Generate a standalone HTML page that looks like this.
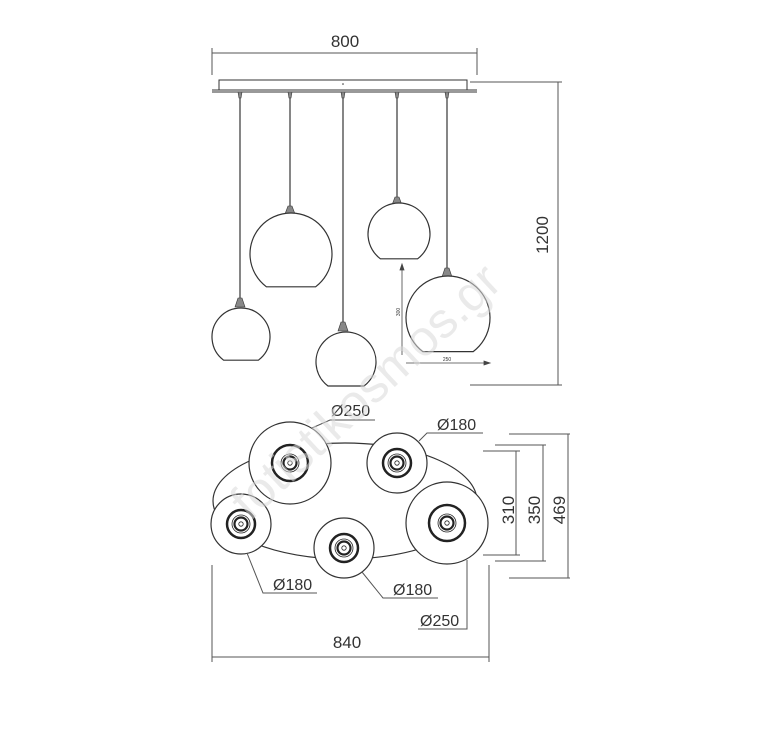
<!DOCTYPE html>
<html><head><meta charset="utf-8"><style>
html,body{margin:0;padding:0;background:#fff}
svg{display:block}
text{font-family:"Liberation Sans",sans-serif;fill:#333}
</style></head><body>
<svg width="767" height="729" viewBox="0 0 767 729" xmlns="http://www.w3.org/2000/svg">
<g stroke="#555" stroke-width="1" fill="none">
<line x1="212" y1="53" x2="477" y2="53"/>
<line x1="212" y1="48" x2="212" y2="75"/>
<line x1="477" y1="48" x2="477" y2="75"/>
<line x1="558" y1="82" x2="558" y2="385"/>
<line x1="470" y1="82" x2="562" y2="82"/>
<line x1="470" y1="385" x2="562" y2="385"/>
</g>
<text x="345" y="47" font-size="17" text-anchor="middle">800</text>
<text font-size="17" text-anchor="middle" transform="translate(548,235) rotate(-90)">1200</text>

<g stroke="#333" stroke-width="1" fill="#fff">
<rect x="219" y="80" width="248" height="10"/>
<line x1="212" y1="92" x2="477" y2="92"/>
<line x1="212" y1="90" x2="477" y2="90"/>
</g>
<circle cx="343" cy="84" r="0.8" fill="#333"/>

<g stroke="#444" stroke-width="1.3" fill="none">
<line x1="240" y1="92" x2="240" y2="298"/>
<line x1="290" y1="92" x2="290" y2="207"/>
<line x1="343" y1="92" x2="343" y2="323"/>
<line x1="397" y1="92" x2="397" y2="198"/>
<line x1="447" y1="92" x2="447" y2="270"/>
</g>
<g fill="#888" stroke="#333" stroke-width="0.6">
<path d="M238,92 h4 l-1,6 h-2z"/><path d="M288,92 h4 l-1,6 h-2z"/><path d="M341,92 h4 l-1,6 h-2z"/><path d="M395,92 h4 l-1,6 h-2z"/><path d="M445,92 h4 l-1,6 h-2z"/>
<path d="M238,298 h4 l3,9 h-10z"/>
<path d="M288,206 h4 l3,8 h-10z"/>
<path d="M341,322 h4 l3,9 h-10z"/>
<path d="M395,197 h4 l3,8 h-10z"/>
<path d="M445,268 h4 l3,9 h-10z"/>
</g>
<g stroke="#333" stroke-width="1.2" fill="#fff">
<path d="M223.6,360.2 A29,29 0 1 1 258.4,360.2 Z"/>
<path d="M266.4,289.8 A41,41 0 1 1 315.6,289.8 Z" transform="translate(0,-3)"/>
<path d="M326,386 A30,30 0 1 1 362,386 Z" transform="translate(2,0)"/>
<path d="M379.4,258.8 A31,31 0 1 1 416.6,258.8 Z" transform="translate(1,0)"/>
<path d="M422.8,351.6 A42,42 0 1 1 473.2,351.6 Z"/>
</g>
<g stroke="#444" stroke-width="0.8" fill="#444">
<line x1="402" y1="268" x2="402" y2="355"/>
<path d="M402,264 l-2,6 h4z"/>
<line x1="406" y1="363" x2="489" y2="363"/>
<path d="M490,363 l-6,-2 v4z"/>
</g>
<text font-size="5" text-anchor="middle" transform="translate(400,312) rotate(-90)">300</text>
<text x="447" y="361" font-size="5" text-anchor="middle">250</text>

<ellipse cx="345" cy="501" rx="132" ry="58" fill="#fff" stroke="#333" stroke-width="1.2"/>
<g stroke="#333" fill="#fff">
<circle cx="290" cy="463" r="41" stroke-width="1.2"/>
<circle cx="397" cy="463" r="30" stroke-width="1.2"/>
<circle cx="241" cy="524" r="30" stroke-width="1.2"/>
<circle cx="344" cy="548" r="30" stroke-width="1.2"/>
<circle cx="447" cy="523" r="41" stroke-width="1.2"/>
</g>
<g fill="none" stroke="#222">
<g stroke-width="2.5"><circle cx="290" cy="463" r="18"/><circle cx="447" cy="523" r="18"/>
<circle cx="397" cy="463" r="14"/><circle cx="241" cy="524" r="14"/><circle cx="344" cy="548" r="14"/></g>
<g stroke-width="2.2"><circle cx="290" cy="463" r="6.5"/><circle cx="447" cy="523" r="6.5"/>
<circle cx="397" cy="463" r="6.5"/><circle cx="241" cy="524" r="6.5"/><circle cx="344" cy="548" r="6.5"/></g>
<g stroke-width="0.8"><circle cx="290" cy="463" r="9"/><circle cx="447" cy="523" r="9"/>
<circle cx="397" cy="463" r="9"/><circle cx="241" cy="524" r="9"/><circle cx="344" cy="548" r="9"/>
<circle cx="290" cy="463" r="2.2"/><circle cx="447" cy="523" r="2.2"/>
<circle cx="397" cy="463" r="2.2"/><circle cx="241" cy="524" r="2.2"/><circle cx="344" cy="548" r="2.2"/></g>
</g>

<g stroke="#555" stroke-width="1" fill="none">
<polyline points="312,428 330,420 375,420"/>
<polyline points="419,441 427,433 483,433"/>
<polyline points="247,553 263,593 317,593"/>
<polyline points="362,572 383,598 438,598"/>
<polyline points="467,560 467,629 418,629"/>
<line x1="212" y1="657" x2="489" y2="657"/>
<line x1="212" y1="565" x2="212" y2="662"/>
<line x1="489" y1="565" x2="489" y2="662"/>
<line x1="516" y1="451" x2="516" y2="555"/>
<line x1="483" y1="451" x2="520" y2="451"/>
<line x1="483" y1="555" x2="520" y2="555"/>
<line x1="543" y1="445" x2="543" y2="561"/>
<line x1="495" y1="445" x2="546" y2="445"/>
<line x1="495" y1="561" x2="546" y2="561"/>
<line x1="568" y1="434" x2="568" y2="578"/>
<line x1="509" y1="434" x2="570" y2="434"/>
<line x1="509" y1="578" x2="570" y2="578"/>
</g>
<g font-size="16">
<text x="331" y="416">Ø250</text>
<text x="437" y="430">Ø180</text>
<text x="273" y="590">Ø180</text>
<text x="393" y="595">Ø180</text>
<text x="420" y="626">Ø250</text>
<text x="347" y="648" font-size="17" text-anchor="middle">840</text>
<text font-size="17" text-anchor="middle" transform="translate(514,510) rotate(-90)">310</text>
<text font-size="17" text-anchor="middle" transform="translate(540,510) rotate(-90)">350</text>
<text font-size="17" text-anchor="middle" transform="translate(565,510) rotate(-90)">469</text>
</g>
<text x="0" y="0" font-size="50" style="fill:#d8d8d8;fill-opacity:0.55" transform="translate(250,522) rotate(-43)">fotistikosmos.gr</text>
</svg>
</body></html>
